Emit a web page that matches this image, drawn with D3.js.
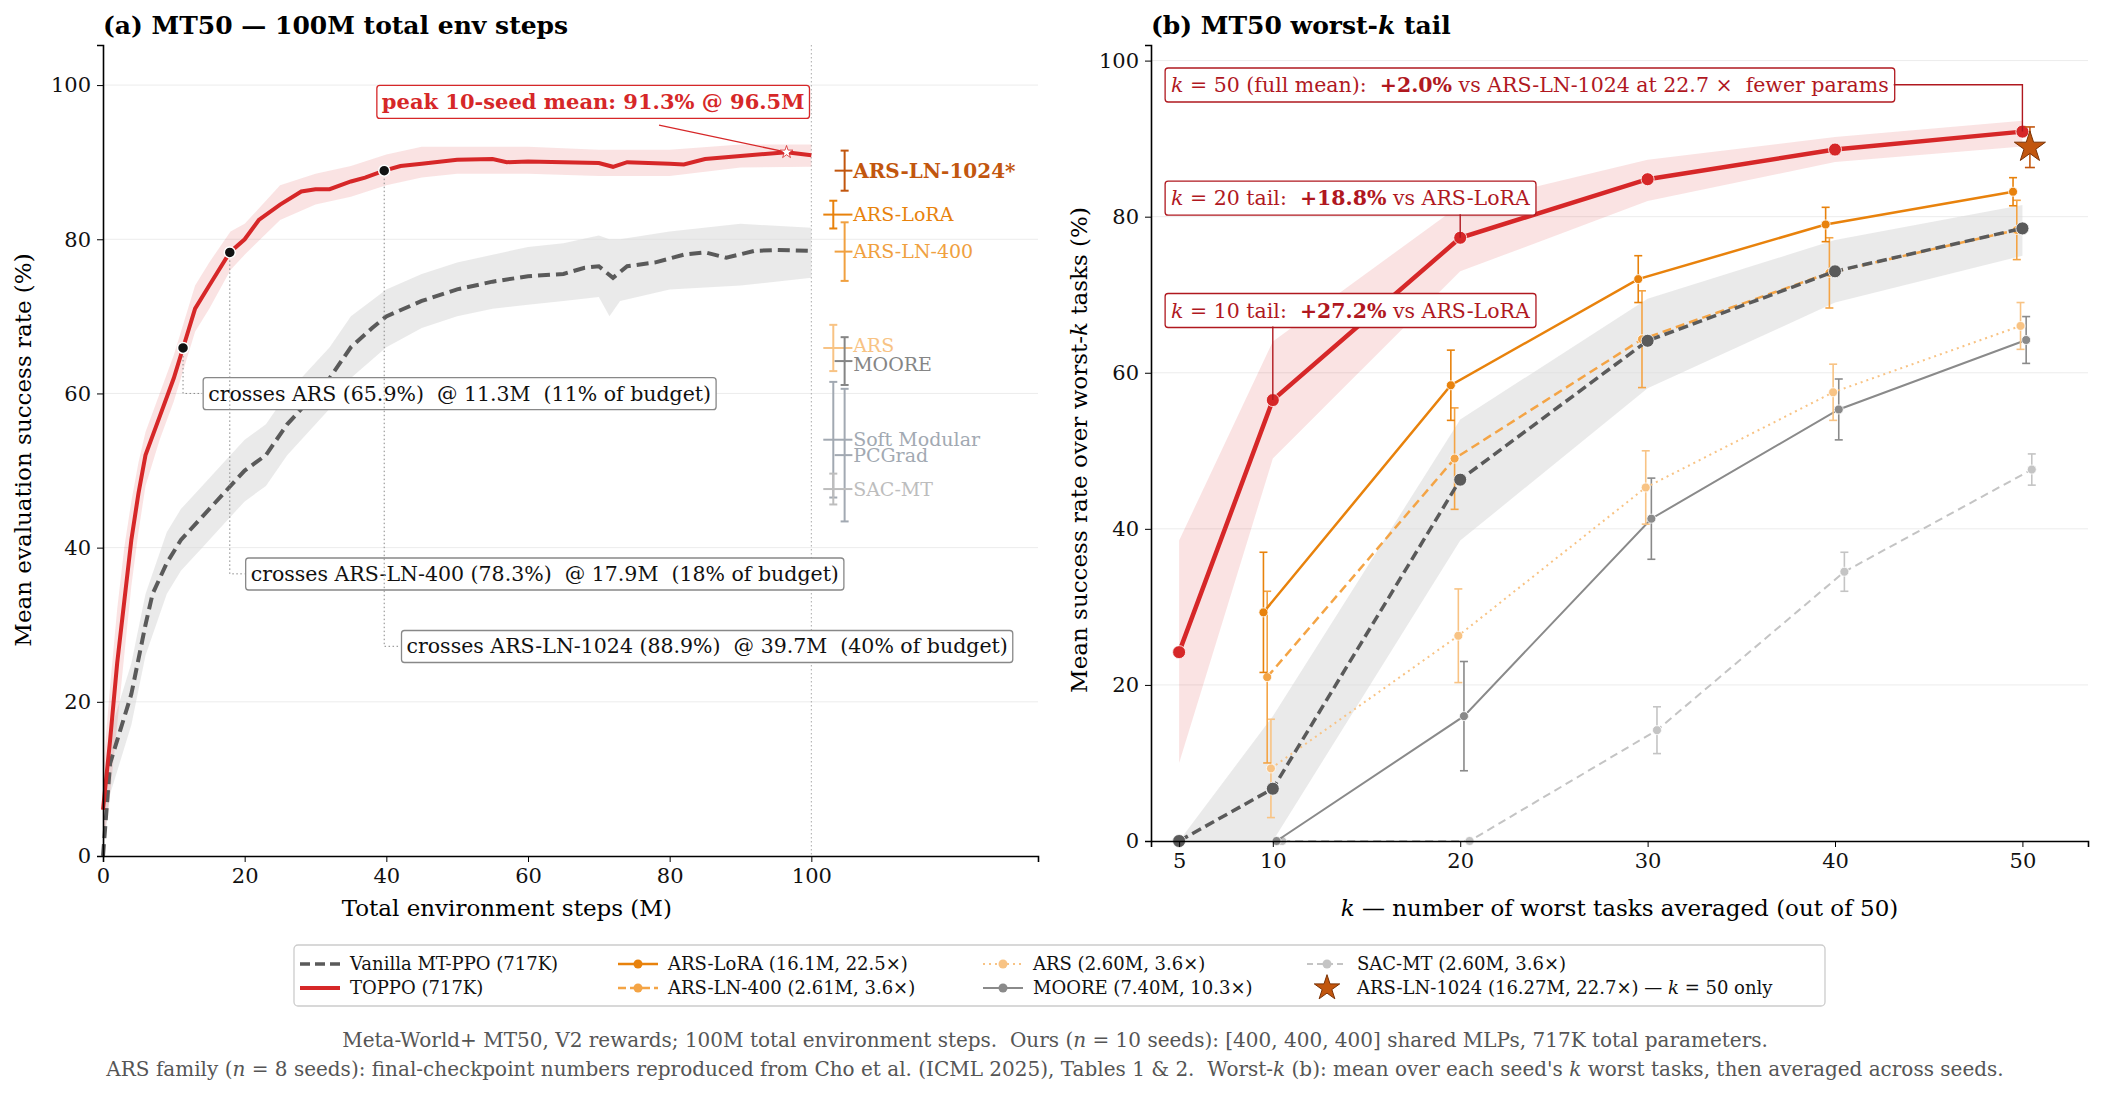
<!DOCTYPE html>
<html><head><meta charset="utf-8">
<script src="https://cdn.jsdelivr.net/npm/d3@7"></script>
<style>body{margin:0;background:#fff}svg{font-family:"DejaVu Serif",serif}text{white-space:pre}</style>
</head><body>
<svg id="chart" width="2111" height="1099"></svg>
<script>
// panel (a): learning curves, [M steps, %]
const topppoCurve = [[0,6],[1,15],[2,25],[3,33],[4,41],[5,47],[6,52],[8,57],[10,62],[11.3,65.9],[13,71],[15,74],[17.9,78.3],[20,80],[22,82.5],[25,84.5],[28,86.2],[30,86.5],[32,86.5],[35,87.5],[37,88],[39.7,88.9],[42,89.5],[45,89.8],[50,90.3],[55,90.4],[57,90],[60,90.1],[65,90],[70,89.9],[72,89.4],[74,90],[80,89.8],[82,89.7],[85,90.4],[90,90.8],[96.5,91.3],[100,90.9]]
const topppoBand = [[0,1,11],[1,8,22],[2,17,32],[3,26,40],[4,35,46],[5,42,51],[6,48,55],[8,54,60],[10,59,65],[13,68,74],[15,71,77],[18,76,81],[20,78,82],[25,82.5,87],[30,84.5,88.5],[35,85.5,89.5],[40,87,91],[45,88,92],[50,88.5,92],[60,88.5,92],[70,88.2,91.6],[80,88.2,91.6],[90,89.3,92.3],[100,89.4,92.3]]
const vanillaCurve = [[0,0],[1,12],[2,15],[4,21],[6,30],[7,34],[9,38],[11,41],[14,44],[17,47],[20,50],[23,52],[26,56],[29,59],[32,62],[35,66],[38,68.5],[40,70],[45,72],[50,73.5],[55,74.5],[60,75.2],[65,75.5],[68,76.3],[70,76.5],[72,75],[74,76.5],[78,77],[82,78],[85,78.3],[88,77.6],[92,78.5],[95,78.6],[100,78.5]]
const vanillaBand = [[0,0,2],[1,8,16],[2,11,19],[4,17,25],[6,26,34],[9,34,42],[11,37,45],[14,40,48],[17,43,51],[20,46,54],[23,48,56],[26,52,60],[29,55,63],[32,58,66],[35,62,70],[40,66,73.5],[45,68.5,75.5],[50,70,77],[55,71,78],[60,71.5,79],[65,72,79.5],[70,72.5,80.5],[71.5,70,80],[73,72,80],[80,73.5,81],[90,74,82],[100,75,81.5]]
// side error bars in panel (a): [name, mean, err, column, colour, bold]
const sideBars = [
  ['ARS-LN-1024*', 88.9, 2.6, 1, '#c2560e', true],
  ['ARS-LoRA', 83.2, 1.8, 0, '#e8820c', false],
  ['ARS-LN-400', 78.4, 3.8, 1, '#f0a040', false],
  ['ARS', 65.9, 3.0, 0, '#f8c384', false],
  ['MOORE', 64.2, 3.1, 1, '#858585', false],
  ['Soft Modular', 54.0, 7.5, 0, '#a2a9b2', false],
  ['PCGrad', 52.0, 8.6, 1, '#a2a9b2', false],
  ['SAC-MT', 47.6, 2.0, 0, '#bdbdbd', false]
]
const crossings = [
  [11.3, 65.9, 'crosses ARS (65.9%)  @ 11.3M  (11% of budget)', 14, 60],
  [17.9, 78.3, 'crosses ARS-LN-400 (78.3%)  @ 17.9M  (18% of budget)', 20, 36.6],
  [39.7, 88.9, 'crosses ARS-LN-1024 (88.9%)  @ 39.7M  (40% of budget)', 42, 27.2]
]
// panel (b): worst-k
const kValues = [5, 10, 20, 30, 40, 50]
const topppoK = [24.2, 56.5, 77.3, 84.8, 88.6, 90.9]
const topppoKLo = [10, 49, 73, 82, 87, 89]
const topppoKHi = [38.5, 64, 81.5, 87.3, 90.2, 92.3]
const vanillaK = [0, 6.7, 46.3, 64.1, 73.0, 78.5]
const vanillaKLo = [0, 0, 38.5, 58, 69, 75]
const vanillaKHi = [0, 16, 54, 69.5, 77, 81.5]
const baseK = [10, 20, 30, 40, 50]
const loraK = [29.3, 58.4, 72.0, 79.0, 83.2], loraErr = [7.7, 4.5, 3.0, 2.2, 1.8]
const ln400K = [21.0, 49.0, 64.3, 72.8, 78.3], ln400Err = [11, 6.5, 6.2, 4.5, 3.8]
const arsK = [9.3, 26.3, 45.3, 57.5, 66.0], arsErr = [6.3, 6.0, 4.7, 3.6, 3.0]
const mooreK = [0, 16.0, 41.3, 55.3, 64.2], mooreErr = [0, 7.0, 5.2, 3.9, 3.0]
const sacK = [0, 0, 14.2, 34.5, 47.6], sacErr = [0, 0, 3.0, 2.5, 2.0]
const ln1024K50 = 88.9, ln1024Err = 2.6

const RED = '#d62728', DARKRED = '#b0181f'
const svg = d3.select('#chart')

// ---------- panel (a)
const xa = d3.scaleLinear().domain([0, 132]).range([103, 1038])
const ya = d3.scaleLinear().domain([0, 105.2]).range([856, 45])
const ga = svg.append('g')
ga.selectAll('.grid').data([20, 40, 60, 80, 100]).join('line')
  .attr('x1', 103).attr('x2', 1038).attr('y1', d => ya(d)).attr('y2', d => ya(d))
  .attr('stroke', '#ececec')
ga.append('line').attr('x1', xa(100)).attr('x2', xa(100)).attr('y1', 45).attr('y2', 856)
  .attr('stroke', '#aaa').attr('stroke-dasharray', '1.5,2.5')

const areaA = d3.area().x(d => xa(d[0])).y0(d => ya(d[1])).y1(d => ya(d[2]))
const lineA = d3.line().x(d => xa(d[0])).y(d => ya(d[1]))
ga.append('path').attr('d', areaA(vanillaBand)).attr('fill', '#d9d9d9').attr('opacity', 0.55)
ga.append('path').attr('d', areaA(topppoBand)).attr('fill', RED).attr('opacity', 0.13)
ga.append('path').attr('d', lineA(vanillaCurve)).attr('fill', 'none').attr('stroke', '#5a5a5a')
  .attr('stroke-width', 4).attr('stroke-dasharray', '12,6')
ga.append('path').attr('d', lineA(topppoCurve)).attr('fill', 'none').attr('stroke', RED).attr('stroke-width', 4)

// crossings
crossings.forEach(c => {
  const [cx, cy, label, bx, by] = c
  ga.append('path').attr('d', `M${xa(cx)},${ya(cy)}V${ya(by)}H${xa(bx)}`)
    .attr('fill', 'none').attr('stroke', '#888').attr('stroke-dasharray', '1.5,2.5')
  const t = ga.append('text').attr('x', xa(bx) + 6).attr('y', ya(by)).attr('dy', '0.35em')
    .attr('font-size', 20.5).attr('fill', '#111').text(label)
  const bb = t.node().getBBox()
  ga.insert('rect', 'text').attr('x', bb.x - 5).attr('y', bb.y - 4).attr('width', bb.width + 10)
    .attr('height', bb.height + 8).attr('rx', 3).attr('fill', '#fff').attr('stroke', '#888').attr('stroke-width', 1.3)
  ga.append('circle').attr('cx', xa(cx)).attr('cy', ya(cy)).attr('r', 5.5).attr('fill', '#111')
    .attr('stroke', '#fff').attr('stroke-width', 1.5)
})
// peak
ga.append('line').attr('x1', xa(78.5)).attr('y1', ya(94.8)).attr('x2', xa(96.5)).attr('y2', ya(91.3))
  .attr('stroke', RED).attr('stroke-width', 1.4)
ga.append('path').attr('d', d3.symbol(d3.symbolStar, 50)()).attr('transform', `translate(${xa(96.5)},${ya(91.3)})`)
  .attr('fill', '#fff').attr('stroke', RED).attr('stroke-width', 0.8)
{
  const t = ga.append('text').attr('x', xa(69.2)).attr('y', ya(97.8)).attr('dy', '0.35em').attr('text-anchor', 'middle')
    .attr('font-size', 21).attr('font-weight', 'bold').attr('fill', RED).text('peak 10-seed mean: 91.3% @ 96.5M')
  const bb = t.node().getBBox()
  ga.insert('rect', 'text').attr('x', bb.x - 5).attr('y', bb.y - 4).attr('width', bb.width + 10)
    .attr('height', bb.height + 8).attr('rx', 3).attr('fill', '#fff').attr('stroke', RED).attr('stroke-width', 1.3)
}
// side bars
sideBars.forEach(s => {
  const [name, m, e, col, c, bold] = s
  const x = xa(col ? 104.7 : 103.1)
  ga.append('line').attr('x1', x).attr('x2', x).attr('y1', ya(m - e)).attr('y2', ya(m + e)).attr('stroke', c).attr('stroke-width', 2)
  ;[m - e, m + e].forEach(v => ga.append('line').attr('x1', x - 4).attr('x2', x + 4).attr('y1', ya(v)).attr('y2', ya(v)).attr('stroke', c).attr('stroke-width', 2))
  ga.append('line').attr('x1', x - 10).attr('x2', xa(105.8)).attr('y1', ya(m)).attr('y2', ya(m)).attr('stroke', c).attr('stroke-width', 2)
  ga.append('text').attr('x', xa(105.9)).attr('y', ya(m) + (name === 'ARS' ? -3 : name === 'MOORE' ? 3 : 0)).attr('dy', '0.35em')
    .attr('font-size', bold ? 20 : 19).attr('font-weight', bold ? 'bold' : 'normal').attr('fill', c).text(name)
})
ga.append('g').attr('transform', 'translate(0,856)')
  .call(d3.axisBottom(xa).tickValues([0, 20, 40, 60, 80, 100]).tickSize(6).tickPadding(6))
ga.append('g').attr('transform', 'translate(103,0)')
  .call(d3.axisLeft(ya).tickValues([0, 20, 40, 60, 80, 100]).tickSize(6).tickPadding(6))
ga.append('text').attr('x', 103).attr('y', 34).attr('font-size', 25).attr('font-weight', 'bold').text('(a) MT50 — 100M total env steps')
ga.append('text').attr('x', xa(57)).attr('y', 916).attr('text-anchor', 'middle').attr('font-size', 23).text('Total environment steps (M)')
ga.append('text').attr('transform', 'translate(31,450) rotate(-90)').attr('text-anchor', 'middle').attr('font-size', 23).text('Mean evaluation success rate (%)')

// ---------- panel (b)
const xb = d3.scaleLinear().domain([3.5, 53.5]).range([1151, 2088])
const yb = d3.scaleLinear().domain([0, 102]).range([841, 45])
const gb = svg.append('g')
gb.selectAll('.grid').data([20, 40, 60, 80, 100]).join('line')
  .attr('x1', 1151).attr('x2', 2088).attr('y1', d => yb(d)).attr('y2', d => yb(d)).attr('stroke', '#ececec')
const bandB = (lo, hi, ks) => d3.area().x((d, i) => xb(ks[i])).y0((d, i) => yb(lo[i])).y1((d, i) => yb(hi[i]))(lo)
gb.append('path').attr('d', bandB(topppoKLo, topppoKHi, kValues)).attr('fill', RED).attr('opacity', 0.13)
gb.append('path').attr('d', bandB(vanillaKLo, vanillaKHi, kValues)).attr('fill', '#d9d9d9').attr('opacity', 0.55)

function series(vals, errs, ks, off, c, w, dash, r) {
  const pts = vals.map((v, i) => [ks[i] + off, v])
  gb.append('path').attr('d', d3.line().x(d => xb(d[0])).y(d => yb(d[1]))(pts)).attr('fill', 'none')
    .attr('stroke', c).attr('stroke-width', w).attr('stroke-dasharray', dash)
  pts.forEach((p, i) => {
    const e = errs ? errs[i] : 0
    if (e > 0) {
      const x = xb(p[0])
      gb.append('line').attr('x1', x).attr('x2', x).attr('y1', yb(p[1] - e)).attr('y2', yb(p[1] + e)).attr('stroke', c).attr('stroke-width', 1.6)
      ;[p[1] - e, p[1] + e].forEach(v => gb.append('line').attr('x1', x - 4).attr('x2', x + 4).attr('y1', yb(v)).attr('y2', yb(v)).attr('stroke', c).attr('stroke-width', 1.6))
    }
    gb.append('circle').attr('cx', xb(p[0])).attr('cy', yb(p[1])).attr('r', r).attr('fill', c).attr('stroke', '#fff').attr('stroke-width', 0.8)
  })
}
series(sacK, sacErr, baseK, 0.5, '#c4c4c4', 2, '8,5', 4.5)
series(mooreK, mooreErr, baseK, 0.2, '#8a8a8a', 2, null, 4.5)
series(arsK, arsErr, baseK, -0.1, '#f8c384', 2, '2,4', 4.5)
series(ln400K, ln400Err, baseK, -0.3, '#f4a445', 2.5, '9,5', 4.5)
series(loraK, loraErr, baseK, -0.5, '#e8820c', 2.5, null, 4.5)
series(vanillaK, null, kValues, 0, '#5a5a5a', 3.5, '10,5', 6.5)
series(topppoK, null, kValues, 0, RED, 4.5, null, 6.5)
// ARS-LN-1024 star
{
  const x = xb(50.4)
  gb.append('line').attr('x1', x).attr('x2', x).attr('y1', yb(ln1024K50 - ln1024Err)).attr('y2', yb(ln1024K50 + ln1024Err)).attr('stroke', '#c2560e').attr('stroke-width', 1.6)
  ;[ln1024K50 - ln1024Err, ln1024K50 + ln1024Err].forEach(v => gb.append('line').attr('x1', x - 5).attr('x2', x + 5).attr('y1', yb(v)).attr('y2', yb(v)).attr('stroke', '#c2560e').attr('stroke-width', 1.6))
  gb.append('path').attr('d', d3.symbol(d3.symbolStar, 300)()).attr('transform', `translate(${x},${yb(ln1024K50)})`)
    .attr('fill', '#c2560e').attr('stroke', '#7a3205').attr('stroke-width', 1)
}
// annotation boxes
const kNotes = [
  [96.9, [['k', 'i'], [' = 50 (full mean):  ', ''], ['+2.0%', 'b'], [' vs ARS-LN-1024 at 22.7 ×  fewer params', '']], 50, topppoK[5]],
  [82.4, [['k', 'i'], [' = 20 tail:  ', ''], ['+18.8%', 'b'], [' vs ARS-LoRA', '']], 20, topppoK[2]],
  [68.0, [['k', 'i'], [' = 10 tail:  ', ''], ['+27.2%', 'b'], [' vs ARS-LoRA', '']], 10, topppoK[1]]
]
kNotes.forEach(n => {
  const [by, parts, kx, ky] = n
  const g = gb.append('g')
  const t = g.append('text').attr('x', xb(4.2) + 7).attr('y', yb(by)).attr('dy', '0.35em').attr('font-size', 20.5).attr('fill', DARKRED)
  parts.forEach(p => t.append('tspan').attr('font-style', p[1] === 'i' ? 'italic' : null)
    .attr('font-weight', p[1] === 'b' ? 'bold' : null).text(p[0]))
  const bb = t.node().getBBox()
  if (kx === 50) {
    g.append('path').attr('d', `M${bb.x + bb.width + 5},${yb(by)}H${xb(kx)}V${yb(ky)}`).attr('fill', 'none').attr('stroke', DARKRED).attr('stroke-width', 1.4)
  } else {
    g.append('line').attr('x1', xb(kx)).attr('x2', xb(kx)).attr('y1', bb.y + bb.height + 4).attr('y2', yb(ky)).attr('stroke', DARKRED).attr('stroke-width', 1.4)
  }
  g.insert('rect', 'text').attr('x', bb.x - 6).attr('y', bb.y - 5).attr('width', bb.width + 12)
    .attr('height', bb.height + 10).attr('rx', 3).attr('fill', '#fff').attr('stroke', DARKRED).attr('stroke-width', 1.3)
})
gb.append('g').attr('transform', 'translate(0,841)')
  .call(d3.axisBottom(xb).tickValues(kValues).tickSize(6).tickPadding(6))
gb.append('g').attr('transform', 'translate(1151,0)')
  .call(d3.axisLeft(yb).tickValues([0, 20, 40, 60, 80, 100]).tickSize(6).tickPadding(6))
{
  const t = gb.append('text').attr('x', 1151).attr('y', 34).attr('font-size', 25).attr('font-weight', 'bold')
  t.append('tspan').text('(b) MT50 worst-')
  t.append('tspan').attr('font-style', 'italic').text('k')
  t.append('tspan').text(' tail')
  const xl = gb.append('text').attr('x', xb(28.5)).attr('y', 916).attr('text-anchor', 'middle').attr('font-size', 23)
  xl.append('tspan').attr('font-style', 'italic').text('k')
  xl.append('tspan').text(' — number of worst tasks averaged (out of 50)')
  const yl = gb.append('text').attr('transform', 'translate(1087,450) rotate(-90)').attr('text-anchor', 'middle').attr('font-size', 23)
  yl.append('tspan').text('Mean success rate over worst-')
  yl.append('tspan').attr('font-style', 'italic').text('k')
  yl.append('tspan').text(' tasks (%)')
}
svg.selectAll('.tick text').attr('font-size', 21).attr('font-family', '"DejaVu Serif",serif').attr('fill', '#111')
svg.selectAll('.domain').attr('stroke-width', 1.6)

// ---------- legend
const legendItems = [
  ['Vanilla MT-PPO (717K)', '#5a5a5a', '10,5', 3.5, false],
  ['TOPPO (717K)', RED, null, 4, false],
  ['ARS-LoRA (16.1M, 22.5×)', '#e8820c', null, 2.5, true],
  ['ARS-LN-400 (2.61M, 3.6×)', '#f4a445', '8,4', 2.5, true],
  ['ARS (2.60M, 3.6×)', '#f8c384', '2,4', 2, true],
  ['MOORE (7.40M, 10.3×)', '#8a8a8a', null, 2, true],
  ['SAC-MT (2.60M, 3.6×)', '#c4c4c4', '6,4', 2, true],
  ['ARS-LN-1024 (16.27M, 22.7×) — k = 50 only', '#c2560e', 'star', 0, false]
]
const legendCols = [300, 618, 983, 1307]
svg.append('rect').attr('x', 294).attr('y', 945).attr('width', 1531).attr('height', 61).attr('rx', 4)
  .attr('fill', '#fff').attr('stroke', '#ccc').attr('stroke-width', 1.3)
legendItems.forEach((d, i) => {
  const x = legendCols[Math.floor(i / 2)], y = i % 2 ? 988 : 964
  const g = svg.append('g')
  if (d[2] === 'star') {
    g.append('path').attr('d', d3.symbol(d3.symbolStar, 200)()).attr('transform', `translate(${x + 20},${y})`)
      .attr('fill', '#c2560e').attr('stroke', '#7a3205')
  } else {
    g.append('line').attr('x1', x).attr('x2', x + 40).attr('y1', y).attr('y2', y).attr('stroke', d[1])
      .attr('stroke-width', d[3]).attr('stroke-dasharray', d[2])
    if (d[4]) g.append('circle').attr('cx', x + 20).attr('cy', y).attr('r', 4.5).attr('fill', d[1])
  }
  const t = g.append('text').attr('x', x + 50).attr('y', y).attr('dy', '0.35em').attr('font-size', 18).attr('fill', '#111')
  if (i === 7) {
    t.append('tspan').text('ARS-LN-1024 (16.27M, 22.7×) — ')
    t.append('tspan').attr('font-style', 'italic').text('k')
    t.append('tspan').text(' = 50 only')
  } else t.text(d[0])
})
// footnote
const f1 = svg.append('text').attr('x', 1055).attr('y', 1047).attr('text-anchor', 'middle').attr('font-size', 20).attr('fill', '#555')
f1.append('tspan').text('Meta-World+ MT50, V2 rewards; 100M total environment steps.  Ours (')
f1.append('tspan').attr('font-style', 'italic').text('n')
f1.append('tspan').text(' = 10 seeds): [400, 400, 400] shared MLPs, 717K total parameters.')
const f2 = svg.append('text').attr('x', 1055).attr('y', 1076).attr('text-anchor', 'middle').attr('font-size', 20).attr('fill', '#555')
f2.append('tspan').text('ARS family (')
f2.append('tspan').attr('font-style', 'italic').text('n')
f2.append('tspan').text(' = 8 seeds): final-checkpoint numbers reproduced from Cho et al. (ICML 2025), Tables 1 & 2.  Worst-')
f2.append('tspan').attr('font-style', 'italic').text('k')
f2.append('tspan').text(" (b): mean over each seed's ")
f2.append('tspan').attr('font-style', 'italic').text('k')
f2.append('tspan').text(' worst tasks, then averaged across seeds.')
</script>
</body></html>
